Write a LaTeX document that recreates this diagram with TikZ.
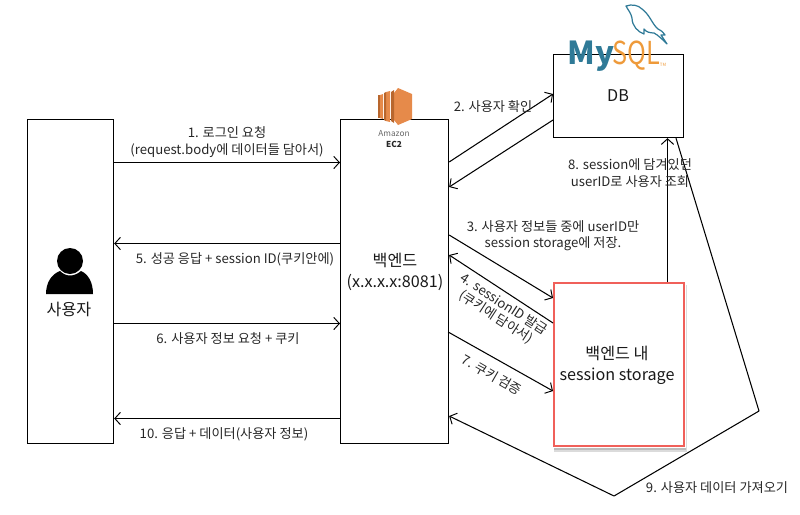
\documentclass[tikz,border=0pt]{standalone}
\usepackage{fontspec}
\setmainfont{Noto Sans CJK KR}
\usepackage{tikz}
\usetikzlibrary{arrows.meta,calc}
\definecolor{ecdark}{HTML}{B8662D}
\definecolor{eclight}{HTML}{E68A4A}
\definecolor{sqlblue}{HTML}{2F7A97}
\definecolor{sqlorange}{HTML}{EE9A3A}
\definecolor{boxred}{HTML}{F0605A}
\tikzset{
    boxnode/.style={draw,line width=0.65pt,minimum width=#1*0.02cm,inner sep=0pt,anchor=north west},
    labelnode/.style={font=\fontsize{7.5}{9.2}\selectfont,align=center,inner sep=0pt,text=black!85},
    titlenode/.style={font=\fontsize{9.2}{11.8}\selectfont,align=center,inner sep=0pt,text=black!90},
    flow/.style={-{Straight Barb[length=3.2pt,width=7pt,line width=0.55pt]},line width=0.6pt},
    shadowfill/.style={black,opacity=0.14},
}
\begin{document}
\begin{tikzpicture}[x=0.02cm,y=-0.02cm]
\useasboundingbox (0,0) rectangle (800,514);
%%%%%%%%%%%%%%%%%%%%%%%%%%%%%%%%%%%%%
% boxes
\node[boxnode=86,minimum height=324*0.02cm] (user) at (27,119) {};
\node[boxnode=108,minimum height=324*0.02cm] (backend) at (340,119) {};
\node[boxnode=130,minimum height=83*0.02cm] (db) at (553,54) {};
\node[boxnode=130,minimum height=163*0.02cm,draw=boxred,line width=1pt] (storage) at (553,282) {};
% shadow under the red box
\fill[shadowfill] ($(storage.south west)+(1,1)$) rectangle ($(storage.south east)+(2,5)$);
\fill[shadowfill] ($(storage.south west)+(1,1)$) rectangle ($(storage.south east)+(1,3)$);
\fill[shadowfill] ($(storage.north east)+(1,3)$) rectangle ($(storage.south east)+(2,1)$);
%%%%%%%%%%%%%%%%%%%%%%%%%%%%%%%%%%%%%
% box texts
\node[titlenode] (usertext) at (69,309) {사용자};
\node[titlenode] (backendtext) at (395,272) {백엔드\\(x.x.x.x:8081)};
\node[titlenode] (dbtext) at (618,96) {DB};
\node[titlenode] (storagetext) at (617,365) {백엔드 내\\session storage};
%%%%%%%%%%%%%%%%%%%%%%%%%%%%%%%%%%%%%
% user icon
\fill (70,261) circle (13);
\fill (46,294) .. controls (46,282) and (52,274) .. (60,271) .. controls (66,277) and (74,277) .. (81,271) .. controls (88,274) and (93,282) .. (93,294) -- cycle;
%%%%%%%%%%%%%%%%%%%%%%%%%%%%%%%%%%%%%
% ec2 logo
\fill[eclight] (394,93) -- (398,88) -- (412,94) -- (412,119) -- (398,125) -- (394,120) -- cycle;
\fill[ecdark] (391,92) -- (394,90) -- (394,123) -- (391,121) -- cycle;
\fill[eclight] (386,92) -- (390,91) -- (390,122) -- (386,121) -- cycle;
\fill[ecdark] (384,93) -- (386,92) -- (386,121) -- (384,120) -- cycle;
\fill[eclight] (380,95) -- (383,94) -- (383,119) -- (380,118) -- cycle;
\fill[ecdark] (378,95) -- (380,95) -- (380,118) -- (378,118) -- cycle;
\node[labelnode,font=\fontsize{4.7}{5}\selectfont,text=black!60] (amazontext) at (394,134) {Amazon};
\node[labelnode,font=\fontsize{4.7}{5}\selectfont\bfseries] (ectext) at (394,144) {EC2};
%%%%%%%%%%%%%%%%%%%%%%%%%%%%%%%%%%%%%
% mysql logo
\node[labelnode,anchor=west,font=\fontsize{18}{18}\selectfont\bfseries,text=sqlblue] (mytext) at (567,56) {My};
\node[labelnode,anchor=west,font=\fontsize{18}{18}\selectfont,text=sqlorange] (sqltext) at (612,56) {\scalebox{0.8}[1]{SQL}};
\node[labelnode,font=\fontsize{2.5}{3}\selectfont,text=sqlorange] (tmtext) at (663,65) {TM};
\draw[sqlblue,line width=0.7pt,line join=round] (626,6) .. controls (632,4) and (638,5) .. (642,9) .. controls (650,15) and (652,24) .. (658,29) .. controls (662,31) and (664,33) .. (665,35) -- (661,35) -- (667,44) .. controls (663,40) and (658,35) .. (654,33) .. controls (650,33) and (646,32) .. (644,29) -- (644,34) .. controls (638,32) and (632,26) .. (632,18) .. controls (631,13) and (628,10) .. (626,6) -- cycle;
%%%%%%%%%%%%%%%%%%%%%%%%%%%%%%%%%%%%%
% user <-> backend
\draw[flow] ($(user.north east)+(0,43.5)$) -- ($(backend.north west)+(0,43.5)$);
\draw[flow] ($(backend.north west)+(0,124.5)$) -- ($(user.north east)+(0,124.5)$);
\draw[flow] ($(user.north east)+(0,204.5)$) -- ($(backend.north west)+(0,204.5)$);
\draw[flow] ($(backend.north west)+(0,299.5)$) -- ($(user.north east)+(0,299.5)$);
\node[labelnode] (msga) at (227,142) {1. 로그인 요청\\(request.body에 데이터들 담아서)};
\node[labelnode] (msge) at (235,259) {5. 성공 응답 + session ID(쿠키안에)};
\node[labelnode] (msgf) at (228,339) {6. 사용자 정보 요청 + 쿠키};
\node[labelnode] (msgj) at (224,434) {10. 응답 + 데이터(사용자 정보)};
%%%%%%%%%%%%%%%%%%%%%%%%%%%%%%%%%%%%%
% backend <-> db and storage
\draw[flow] ($(backend.north east)+(0,43)$) -- ($(db.north west)+(0,40)$);
\draw[flow] ($(db.north west)+(0,66)$) -- ($(backend.north east)+(0,68)$);
\draw[flow] ($(backend.north east)+(0,116)$) -- ($(storage.north west)+(0,16)$);
\draw[flow] ($(storage.north west)+(0,41)$) -- ($(backend.north east)+(0,136)$);
\draw[flow] ($(backend.north east)+(-1,213)$) -- ($(storage.north west)+(0,109)$);
\draw[flow] ($(storage.north west)+(114.5,0)$) -- ($(db.south west)+(114.5,0)$);
\coordinate (bendright) at (759,411);
\coordinate (bendbottom) at (614,496);
\draw[flow,line join=round] ($(db.south west)+(123,0)$) -- (bendright) -- (bendbottom) -- ($(backend.north east)+(0,297)$);
\node[labelnode] (msgb) at (493,107) {2. 사용자 확인};
\node[labelnode] (msgc) at (553,236) {3. 사용자 정보들 중에 userID만\\session storage에 저장.};
\node[labelnode,rotate=-33,font=\fontsize{7.5}{8.5}\selectfont] (msgd) at (500,311) {4. sessionID 발급\\(쿠키에 담아서)};
\node[labelnode,rotate=-30] (msgg) at (492,375) {7. 쿠키 검증};
\node[labelnode] (msgh) at (630,173) {8. session에 담겨있던\\userID로 사용자 조회};
\node[labelnode] (msgi) at (717,488) {9. 사용자 데이터 가져오기};
\end{tikzpicture}
\end{document}
